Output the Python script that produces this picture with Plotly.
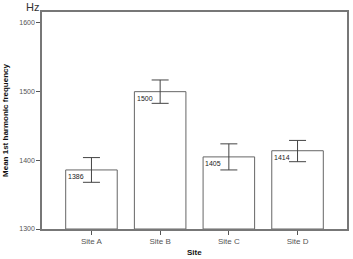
import plotly.graph_objects as go

sites = ["Site A", "Site B", "Site C", "Site D"]
means = [1386, 1500, 1405, 1414]
err_plus = [18, 17, 19, 15]
err_minus = [18, 17, 19, 16]
y_ticks = [1300, 1400, 1500, 1600]

xs = list(range(len(sites)))
fig = go.Figure()
fig.add_trace(go.Bar(
    x=xs, y=[m - 1300 for m in means], base=1300, width=0.75,
    marker=dict(color="white", line=dict(color="#666666", width=1)),
    error_y=dict(type="data", array=err_plus, arrayminus=err_minus, symmetric=False,
                 color="#444444", thickness=1, width=8.5),
    hoverinfo="skip",
))

for i, m in enumerate(means):
    fig.add_annotation(x=i - 0.37, y=m, xref="x", yref="y", text=str(m),
                       showarrow=False, xanchor="left", yanchor="top", yshift=-1,
                       font=dict(family="Liberation Sans", size=7, color="#222222"))

fig.add_annotation(x=-0.06, y=1.0, xref="paper", yref="paper", text="Hz", showarrow=False,
                   xanchor="left", yanchor="bottom", yshift=-3,
                   font=dict(family="Liberation Sans", size=11, color="#333333"))

fig.add_annotation(x=0.5, y=0, xref="paper", yref="paper", text="<b>Site</b>", showarrow=False,
                   xanchor="center", yanchor="middle", yshift=-23,
                   font=dict(family="Liberation Sans", size=8, color="#111111"))

fig.update_layout(
    width=353, height=259, margin=dict(l=42, r=6, t=12, b=30),
    plot_bgcolor="white", paper_bgcolor="white", showlegend=False, bargap=0.25,
    font=dict(family="Liberation Sans", size=7, color="#555555"),
)
fig.update_xaxes(range=[-0.72, 3.72], tickvals=xs, ticktext=sites, ticks="outside", ticklen=4,
                 tickfont=dict(size=8, color="#555555"), automargin=False,
                 tickcolor="#555555", showline=True, linecolor="#777777", linewidth=1.5, mirror=True,
                 showgrid=False, zeroline=False)
fig.update_yaxes(range=[1300, 1616], tickvals=y_ticks, ticks="outside", ticklen=4,
                 tickcolor="#555555", showline=True, linecolor="#777777", linewidth=1.5, mirror=True,
                 showgrid=False, zeroline=False, automargin=False,
                 title=dict(text="<b>Mean 1st harmonic frequency</b>", font=dict(size=8, color="#111111"), standoff=9))

fig.write_html("out.html")
